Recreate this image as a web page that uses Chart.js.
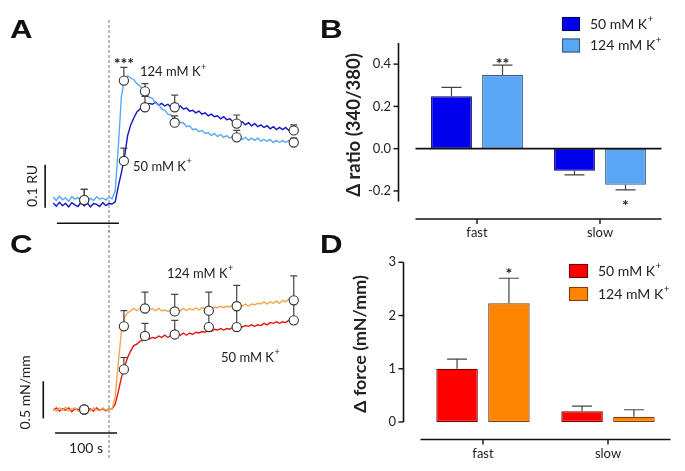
<!DOCTYPE html>
<html><head><meta charset="utf-8">
<script src="https://cdn.jsdelivr.net/npm/chart.js@4.4.1/dist/chart.umd.min.js"></script>
<style>
html,body{margin:0;padding:0;background:#fff;}
#wrap{position:relative;width:685px;height:471px;overflow:hidden;background:#fff;}
canvas{position:absolute;}
.lt{position:absolute;font-family:"Liberation Sans",Arial,sans-serif;font-weight:bold;font-size:25px;line-height:25px;color:#111;transform:scaleX(1.25);transform-origin:left top;}
</style></head><body>
<div id="wrap">
<canvas id="cA" width="340" height="232" style="left:0;top:0"></canvas>
<canvas id="cC" width="340" height="241" style="left:0;top:230px"></canvas>
<canvas id="cB" width="345" height="240" style="left:340px;top:0"></canvas>
<canvas id="cD" width="345" height="241" style="left:340px;top:230px"></canvas>
<div class="lt" style="left:10px;top:17px">A</div>
<div class="lt" style="left:320px;top:17px">B</div>
<div class="lt" style="left:10px;top:232px">C</div>
<div class="lt" style="left:320px;top:232px">D</div>
</div>
<script>
// ---------------- DATA ----------------
// time axis of the representative traces (s, stimulus at 0)
const traceTime = [-90,-85,-80,-75,-70,-65,-60,-55,-50,-45,-40,-35,-30,-25,-20,-15,-10,-5,0,
  5,10,15,20,25,30,35,40,45,50,55,60,65,70,75,80,85,90,95,100,
  105,110,115,120,125,130,135,140,145,150,155,160,165,170,175,180,185,190,195,200,
  205,210,215,220,225,230,235,240,245,250,255,260,265,270,275,280,285,290,295,300];
// Panel A: Fura-2 ratio traces (RU, relative)
const ratioTrace50 = [0.004,-0.003,0.006,-0.002,0.003,-0.005,0.005,0.000,-0.004,0.006,-0.002,0.004,-0.005,0.003,0.001,-0.004,0.005,-0.002,0.003,
  0.002,0.007,0.043,0.075,0.111,0.161,0.186,0.202,0.216,0.223,
  0.230,0.232,0.236,0.234,0.239,0.232,0.236,0.230,0.234,0.227,
  0.232,0.225,0.230,0.223,0.225,0.218,0.220,0.214,0.218,0.211,
  0.214,0.207,0.211,0.205,0.207,0.200,0.205,0.198,0.200,0.193,
  0.198,0.191,0.193,0.186,0.191,0.184,0.189,0.182,0.186,0.180,
  0.184,0.177,0.182,0.175,0.180,0.175,0.180,0.173,0.177,0.175];
const ratioTrace124 = [0.018,0.010,0.020,0.012,0.016,0.008,0.019,0.013,0.017,0.009,0.021,0.012,0.015,0.010,0.019,0.013,0.016,0.011,0.018,
  0.014,0.032,0.134,0.252,0.293,0.300,0.295,0.291,0.282,0.277,
  0.266,0.261,0.250,0.248,0.236,0.234,0.223,0.220,0.211,0.209,
  0.200,0.200,0.191,0.191,0.182,0.184,0.175,0.177,0.170,0.173,
  0.166,0.168,0.161,0.166,0.159,0.164,0.157,0.161,0.155,0.159,
  0.152,0.157,0.152,0.157,0.150,0.155,0.150,0.155,0.148,0.152,
  0.148,0.152,0.145,0.150,0.145,0.150,0.145,0.150,0.145,0.148];
// Panel A: means and SEM
const ratioMeanTime = [-40,24,58,106,206,298];
const ratioMean50 = [0.011,0.102,0.227,0.227,0.189,0.173];
const ratioSem50 = [0.025,0.030,0.025,0.028,0.020,0.013];
const ratioMean124 = [0.011,0.289,0.264,0.191,0.157,0.145];
const ratioSem124 = [0.025,0.031,0.018,0.016,0.016,0.010];
// Panel C: force traces (mN/mm)
const forceTrace50 = [-0.01,0.02,-0.02,0.01,-0.01,0.02,-0.03,0.01,0.00,-0.02,0.02,-0.01,0.01,-0.02,0.02,-0.01,0.01,-0.02,0.01,
  0.01,0.07,0.24,0.43,0.57,0.70,0.79,0.86,0.88,0.92,
  0.93,0.96,0.95,0.97,0.96,0.99,0.97,1.00,0.97,1.00,
  0.99,1.01,1.00,1.03,1.00,1.03,1.01,1.04,1.03,1.05,
  1.04,1.07,1.05,1.08,1.07,1.09,1.07,1.09,1.08,1.11,
  1.09,1.12,1.11,1.13,1.12,1.14,1.12,1.14,1.13,1.16,
  1.14,1.17,1.16,1.18,1.16,1.18,1.17,1.20,1.18,1.20];
const forceTrace124 = [0.01,-0.02,0.02,-0.01,0.03,-0.02,0.01,0.02,-0.02,0.01,-0.01,0.03,-0.02,0.02,0.00,-0.02,0.02,-0.01,0.01,
  0.01,0.17,0.63,1.05,1.24,1.30,1.33,1.36,1.33,1.36,
  1.34,1.37,1.34,1.36,1.33,1.36,1.33,1.34,1.32,1.34,
  1.32,1.34,1.33,1.36,1.33,1.36,1.34,1.37,1.34,1.37,
  1.36,1.38,1.36,1.38,1.37,1.39,1.37,1.39,1.38,1.41,
  1.38,1.41,1.39,1.42,1.39,1.42,1.41,1.43,1.42,1.45,
  1.42,1.45,1.43,1.46,1.43,1.47,1.45,1.49,1.46,1.49];
const forceMeanTime = [-40,24,58,106,161,206,298];
const forceMean50 = [0.00,0.54,0.99,1.01,1.11,1.11,1.20];
const forceSem50 = [0,0.16,0.17,0.19,0.19,0.25,0.25];
const forceMean124 = [0.00,1.12,1.36,1.32,1.33,1.39,1.47];
const forceSem124 = [0,0.21,0.22,0.23,0.25,0.28,0.33];
// Panels B and D: bar summaries
const fibreTypes = ['fast','slow'];
const dRatio50 = [0.248,-0.105];
const dRatioSem50 = [0.042,0.019];
const dRatio124 = [0.348,-0.171];
const dRatioSem124 = [0.047,0.024];
const ratioTicks = [-0.2,0.0,0.2,0.4];
const dForce50 = [1.00,0.20];
const dForceSem50 = [0.18,0.10];
const dForce124 = [2.23,0.10];
const dForceSem124 = [0.47,0.13];
const forceTicks = [0,1,2,3];
const seriesNames = ['50 mM K', '124 mM K'];
const stimTime = 0, timeBarSec = 100, ratioBar = 0.1, forceBar = 0.5;

// ---------------- STYLE / LAYOUT ----------------
const FONT = 'Lato, "DejaVu Sans", sans-serif';
const TXT = '#222';
const col = {
  tr50A:'#1414c4', tr124A:'#5aa8f0', tr50C:'#e01616', tr124C:'#f2a44a',
  b50B:'#0000ee', b50Bb:'#00005e', b124B:'#58a6f4', b124Bb:'#3a5c84',
  b50D:'#ff0000', b50Db:'#7a0000', b124D:'#ff8400', b124Db:'#7a4210'
};
const pos = {
  A:{ ruBar:{x:-103,y:-0.007}, timeBar:{x:-84,y:-0.043}, ruLab:{x:-124,y:0.044}, lab124:{x:50,y:0.309}, lab50:{x:38.7,y:0.089} },
  C:{ fBar:{x:-106,y:-0.12}, timeBar:{x:-87,y:-0.316}, timeLab:{x:-37,y:-0.53}, fLab:{x:-135.5,y:0.23}, lab124:{x:93.5,y:1.83}, lab50:{x:180.6,y:0.70} }
};

Chart.defaults.font.family = FONT;
Chart.defaults.color = TXT;

function pts(xs, ys){ return xs.map((x,i)=>({x:x,y:ys[i]})); }

function supText(ctx, x, y, main, sup, size, align){
  ctx.save();
  ctx.fillStyle = TXT;
  ctx.font = size+'px '+FONT;
  ctx.textBaseline = 'middle';
  const w = ctx.measureText(main).width;
  ctx.font = Math.round(size*0.68)+'px '+FONT;
  const ws = ctx.measureText(sup).width;
  let x0 = x;
  if (align === 'center') x0 = x - (w+ws)/2;
  ctx.textAlign = 'left';
  ctx.font = size+'px '+FONT;
  ctx.fillText(main, x0, y);
  ctx.font = Math.round(size*0.68)+'px '+FONT;
  ctx.fillText(sup, x0+w+0.5, y-size*0.4);
  ctx.restore();
}
function line(ctx, x1,y1,x2,y2, w, c){
  ctx.save(); ctx.strokeStyle=c||'#111'; ctx.lineWidth=w||1.5;
  ctx.beginPath(); ctx.moveTo(x1,y1); ctx.lineTo(x2,y2); ctx.stroke(); ctx.restore();
}
function rotText(ctx, x, y, text, font){
  ctx.save(); ctx.translate(x,y); ctx.rotate(-Math.PI/2);
  ctx.font = font; ctx.fillStyle = TXT; ctx.textAlign='center'; ctx.textBaseline='middle';
  ctx.fillText(text,0,0); ctx.restore();
}
function fitRotTitle(ctx, x, y, text, targetLen, base){
  ctx.save(); ctx.font = 'bold '+base+'px '+FONT;
  const w = ctx.measureText(text).width; ctx.restore();
  const size = Math.min(19, Math.max(14, base*targetLen/w));
  rotText(ctx, x, y, text, 'bold '+size.toFixed(1)+'px '+FONT);
}
function stars(chart, dsIndex, idx, text, dy){
  const ds = chart.data.datasets[dsIndex];
  const el = chart.getDatasetMeta(dsIndex).data[idx];
  const v = typeof ds.data[idx]==='object' ? ds.data[idx].y : ds.data[idx];
  const top = v >= 0 ? v + ds.sem[idx] : v - ds.sem[idx];
  const y = chart.scales.y.getPixelForValue(top) + dy;
  const ctx = chart.ctx; ctx.save();
  ctx.font = 'bold 16px '+FONT; ctx.fillStyle=TXT; ctx.textAlign='center'; ctx.textBaseline='middle';
  ctx.fillText(text, el.x, y); ctx.restore();
}

// error bars drawn just before the dataset that owns them
const errPlugin = {
  id:'errbars',
  beforeDatasetDraw(chart, args){
    const ds = chart.data.datasets[args.index];
    if (!ds.sem) return;
    const ctx = chart.ctx, ys = chart.scales.y;
    ctx.save(); ctx.strokeStyle = '#444'; ctx.lineWidth = ds.errWidth || 1.2;
    args.meta.data.forEach((el,i)=>{
      const s = ds.sem[i]; if (!s) return;
      const v = typeof ds.data[i]==='object' ? ds.data[i].y : ds.data[i];
      const top = v >= 0 ? v + s : v - s;
      const yc = ys.getPixelForValue(top);
      const y0 = chart.config.type==='bar' ? ys.getPixelForValue(v) : el.y;
      ctx.beginPath(); ctx.moveTo(el.x, y0); ctx.lineTo(el.x, yc);
      ctx.moveTo(el.x-ds.capHalf, yc); ctx.lineTo(el.x+ds.capHalf, yc); ctx.stroke();
    });
    ctx.restore();
  }
};

function traceDs(ys, color, order){
  return {data: pts(traceTime, ys), borderColor: color, borderWidth: 1.4, pointRadius: 0, tension: 0, fill:false, order: order};
}
function meanDs(xs, ys, sem, order){
  return {data: pts(xs, ys), sem: sem, capHalf: 3.5, showLine:false, pointRadius: 4.6, pointBackgroundColor:'#fff',
    pointBorderColor:'#333', pointBorderWidth:1.1, borderColor:'#333', order: order};
}
const common = {animation:false, responsive:false, events:[], plugins:{legend:{display:false}, tooltip:{enabled:false}}};

// ---------------- PANEL A ----------------
new Chart(document.getElementById('cA'), {
  type:'line',
  data:{datasets:[
    traceDs(ratioTrace50, col.tr50A, 6),
    traceDs(ratioTrace124, col.tr124A, 5),
    meanDs(ratioMeanTime, ratioMean50, ratioSem50, 2),
    meanDs(ratioMeanTime, ratioMean124, ratioSem124, 1)
  ]},
  options:Object.assign({}, common, {
    layout:{padding:{left:47, right:38.8, top:20, bottom:1}},
    scales:{x:{type:'linear', min:-100, max:310, display:false}, y:{min:-0.05, max:0.43, display:false}}
  }),
  plugins:[errPlugin, {
    id:'annA',
    beforeDatasetsDraw(c){
      const ctx=c.ctx, x=c.scales.x.getPixelForValue(stimTime);
      ctx.save(); ctx.setLineDash([3,2]); line(ctx, x, 20, x, c.height, 1, '#777'); ctx.restore();
    },
    afterDraw(c){
      const ctx=c.ctx, xs=c.scales.x, ys=c.scales.y, p=pos.A;
      const bx = xs.getPixelForValue(p.ruBar.x);
      line(ctx, bx, ys.getPixelForValue(p.ruBar.y), bx, ys.getPixelForValue(p.ruBar.y+ratioBar), 1.6);
      const hy = ys.getPixelForValue(p.timeBar.y);
      line(ctx, xs.getPixelForValue(p.timeBar.x), hy, xs.getPixelForValue(p.timeBar.x+timeBarSec), hy, 1.6);
      rotText(ctx, xs.getPixelForValue(p.ruLab.x), ys.getPixelForValue(p.ruLab.y), '0.1 RU', '14px '+FONT);
      supText(ctx, xs.getPixelForValue(p.lab124.x), ys.getPixelForValue(p.lab124.y), seriesNames[1], '+', 13);
      supText(ctx, xs.getPixelForValue(p.lab50.x), ys.getPixelForValue(p.lab50.y), seriesNames[0], '+', 13);
      stars(c, 3, 1, '***', -3);
    }
  }]
});

// ---------------- PANEL C ----------------
new Chart(document.getElementById('cC'), {
  type:'line',
  data:{datasets:[
    traceDs(forceTrace50, col.tr50C, 6),
    traceDs(forceTrace124, col.tr124C, 5),
    meanDs(forceMeanTime, forceMean50, forceSem50, 2),
    meanDs(forceMeanTime, forceMean124, forceSem124, 1)
  ]},
  options:Object.assign({}, common, {
    layout:{padding:{left:47, right:38.8, top:0, bottom:11}},
    scales:{x:{type:'linear', min:-100, max:310, display:false}, y:{min:-0.68, max:2.34, display:false}}
  }),
  plugins:[errPlugin, {
    id:'annC',
    beforeDatasetsDraw(c){
      const ctx=c.ctx, x=c.scales.x.getPixelForValue(stimTime);
      ctx.save(); ctx.setLineDash([3,2]); line(ctx, x, 0, x, 228, 1, '#777'); ctx.restore();
    },
    afterDraw(c){
      const ctx=c.ctx, xs=c.scales.x, ys=c.scales.y, p=pos.C;
      const bx = xs.getPixelForValue(p.fBar.x);
      line(ctx, bx, ys.getPixelForValue(p.fBar.y), bx, ys.getPixelForValue(p.fBar.y+forceBar), 1.6);
      const hy = ys.getPixelForValue(p.timeBar.y);
      line(ctx, xs.getPixelForValue(p.timeBar.x), hy, xs.getPixelForValue(p.timeBar.x+timeBarSec), hy, 1.6);
      ctx.save(); ctx.font='14px '+FONT; ctx.fillStyle=TXT; ctx.textAlign='center'; ctx.textBaseline='middle';
      ctx.fillText(timeBarSec+' s', xs.getPixelForValue(p.timeLab.x), ys.getPixelForValue(p.timeLab.y)); ctx.restore();
      rotText(ctx, xs.getPixelForValue(p.fLab.x), ys.getPixelForValue(p.fLab.y), '0.5 mN/mm', '14px '+FONT);
      supText(ctx, xs.getPixelForValue(p.lab124.x), ys.getPixelForValue(p.lab124.y), seriesNames[1], '+', 13);
      supText(ctx, xs.getPixelForValue(p.lab50.x), ys.getPixelForValue(p.lab50.y), seriesNames[0], '+', 13);
    }
  }]
});

// ---------------- BAR PANELS ----------------
function barDs(data, sem, fill, border){
  return {label:'', data:data, sem:sem, capHalf:10, backgroundColor:fill, borderColor:border, borderWidth:1.2,
    borderSkipped:false, categoryPercentage:0.83, barPercentage:0.8};
}
function barChart(id, cfg){
  return new Chart(document.getElementById(id), {
    type:'bar',
    data:{labels:fibreTypes, datasets:[barDs(cfg.d50, cfg.s50, cfg.c50, cfg.c50b), barDs(cfg.d124, cfg.s124, cfg.c124, cfg.c124b)]},
    options:Object.assign({}, common, {
      layout:{padding:{left:0, top:cfg.padTop, right:cfg.padRight, bottom:0}},
      scales:{
        x:{grid:{display:false, drawTicks:false}, border:{display:false},
           ticks:{font:{family:FONT, size:13}, color:TXT, padding:24},
           afterFit:s=>{s.height=cfg.xH;}},
        y:{min:cfg.min, max:cfg.max, grid:{display:false, drawTicks:false}, border:{display:false},
           afterBuildTicks:s=>{s.ticks=cfg.ticks.map(v=>({value:v}));},
           ticks:{font:{family:FONT, size:13}, color:TXT, padding:24.5, callback:cfg.fmt},
           afterFit:s=>{s.width=cfg.yW;}}
      }
    }),
    plugins:[errPlugin, {
      id:'ann'+id,
      afterDatasetsDraw(c){
        const ctx=c.ctx, a=c.chartArea, ys=c.scales.y;
        if (cfg.zeroLine) { const y0=ys.getPixelForValue(0); line(ctx, a.left, y0, a.right, y0, 1.6); }
      },
      afterDraw(c){
        const ctx=c.ctx, a=c.chartArea, xs=c.scales.x, ys=c.scales.y;
        const ax = a.left-17;
        line(ctx, ax, a.top, ax, a.bottom, 1.6);
        cfg.ticks.forEach(v=>{ const y=ys.getPixelForValue(v); line(ctx, ax-5, y, ax, y, 1.4); });
        const ay = a.bottom+17.5;
        line(ctx, a.left, ay, a.right, ay, 1.6);
        fibreTypes.forEach((t,i)=>{ const x=xs.getPixelForValue(i); line(ctx, x, ay, x, ay+5, 1.4); });
        fitRotTitle(ctx, cfg.titleX, cfg.titleY, cfg.title, cfg.titleLen, 16);
        const L=cfg.leg;
        [[cfg.c50,cfg.c50b],[cfg.c124,cfg.c124b]].forEach((cc,i)=>{
          const y=L.y+i*L.dy;
          ctx.save(); ctx.fillStyle=cc[0]; ctx.fillRect(L.x, y, L.w, L.h);
          ctx.strokeStyle=cc[1]; ctx.lineWidth=1.1; ctx.strokeRect(L.x+0.5, y+0.5, L.w-1, L.h-1); ctx.restore();
          supText(ctx, L.tx, y+L.h/2, seriesNames[i], '+', L.size);
        });
        cfg.stars.forEach(s=>stars(c, s[0], s[1], s[2], s[3]));
      }
    }]
  });
}

barChart('cB', {d50:dRatio50, s50:dRatioSem50, d124:dRatio124, s124:dRatioSem124,
  c50:col.b50B, c50b:col.b50Bb, c124:col.b124B, c124b:col.b124Bb,
  min:-0.25, max:0.5, ticks:ratioTicks, fmt:v=>v.toFixed(1), padTop:43, padRight:23.5, xH:38.5, yW:75.5,
  zeroLine:true, title:'\u0394 ratio (340/380)', titleX:14, titleY:125, titleLen:144,
  leg:{x:222, y:17, dy:21.5, w:18, h:14, tx:250, size:14},
  stars:[[1,0,'**',-1],[1,1,'*',16]]});

barChart('cD', {d50:dForce50, s50:dForceSem50, d124:dForce124, s124:dForceSem124,
  c50:col.b50D, c50b:col.b50Db, c124:col.b124D, c124b:col.b124Db,
  min:0, max:3, ticks:forceTicks, fmt:v=>String(v), padTop:32, padRight:14.5, xH:49, yW:80.5,
  zeroLine:false, title:'\u0394 force (mN/mm)', titleX:20, titleY:114, titleLen:138,
  leg:{x:229, y:34, dy:23, w:19, h:14, tx:258, size:14},
  stars:[[1,0,'*',-4.5]]});
</script>
</body></html>
